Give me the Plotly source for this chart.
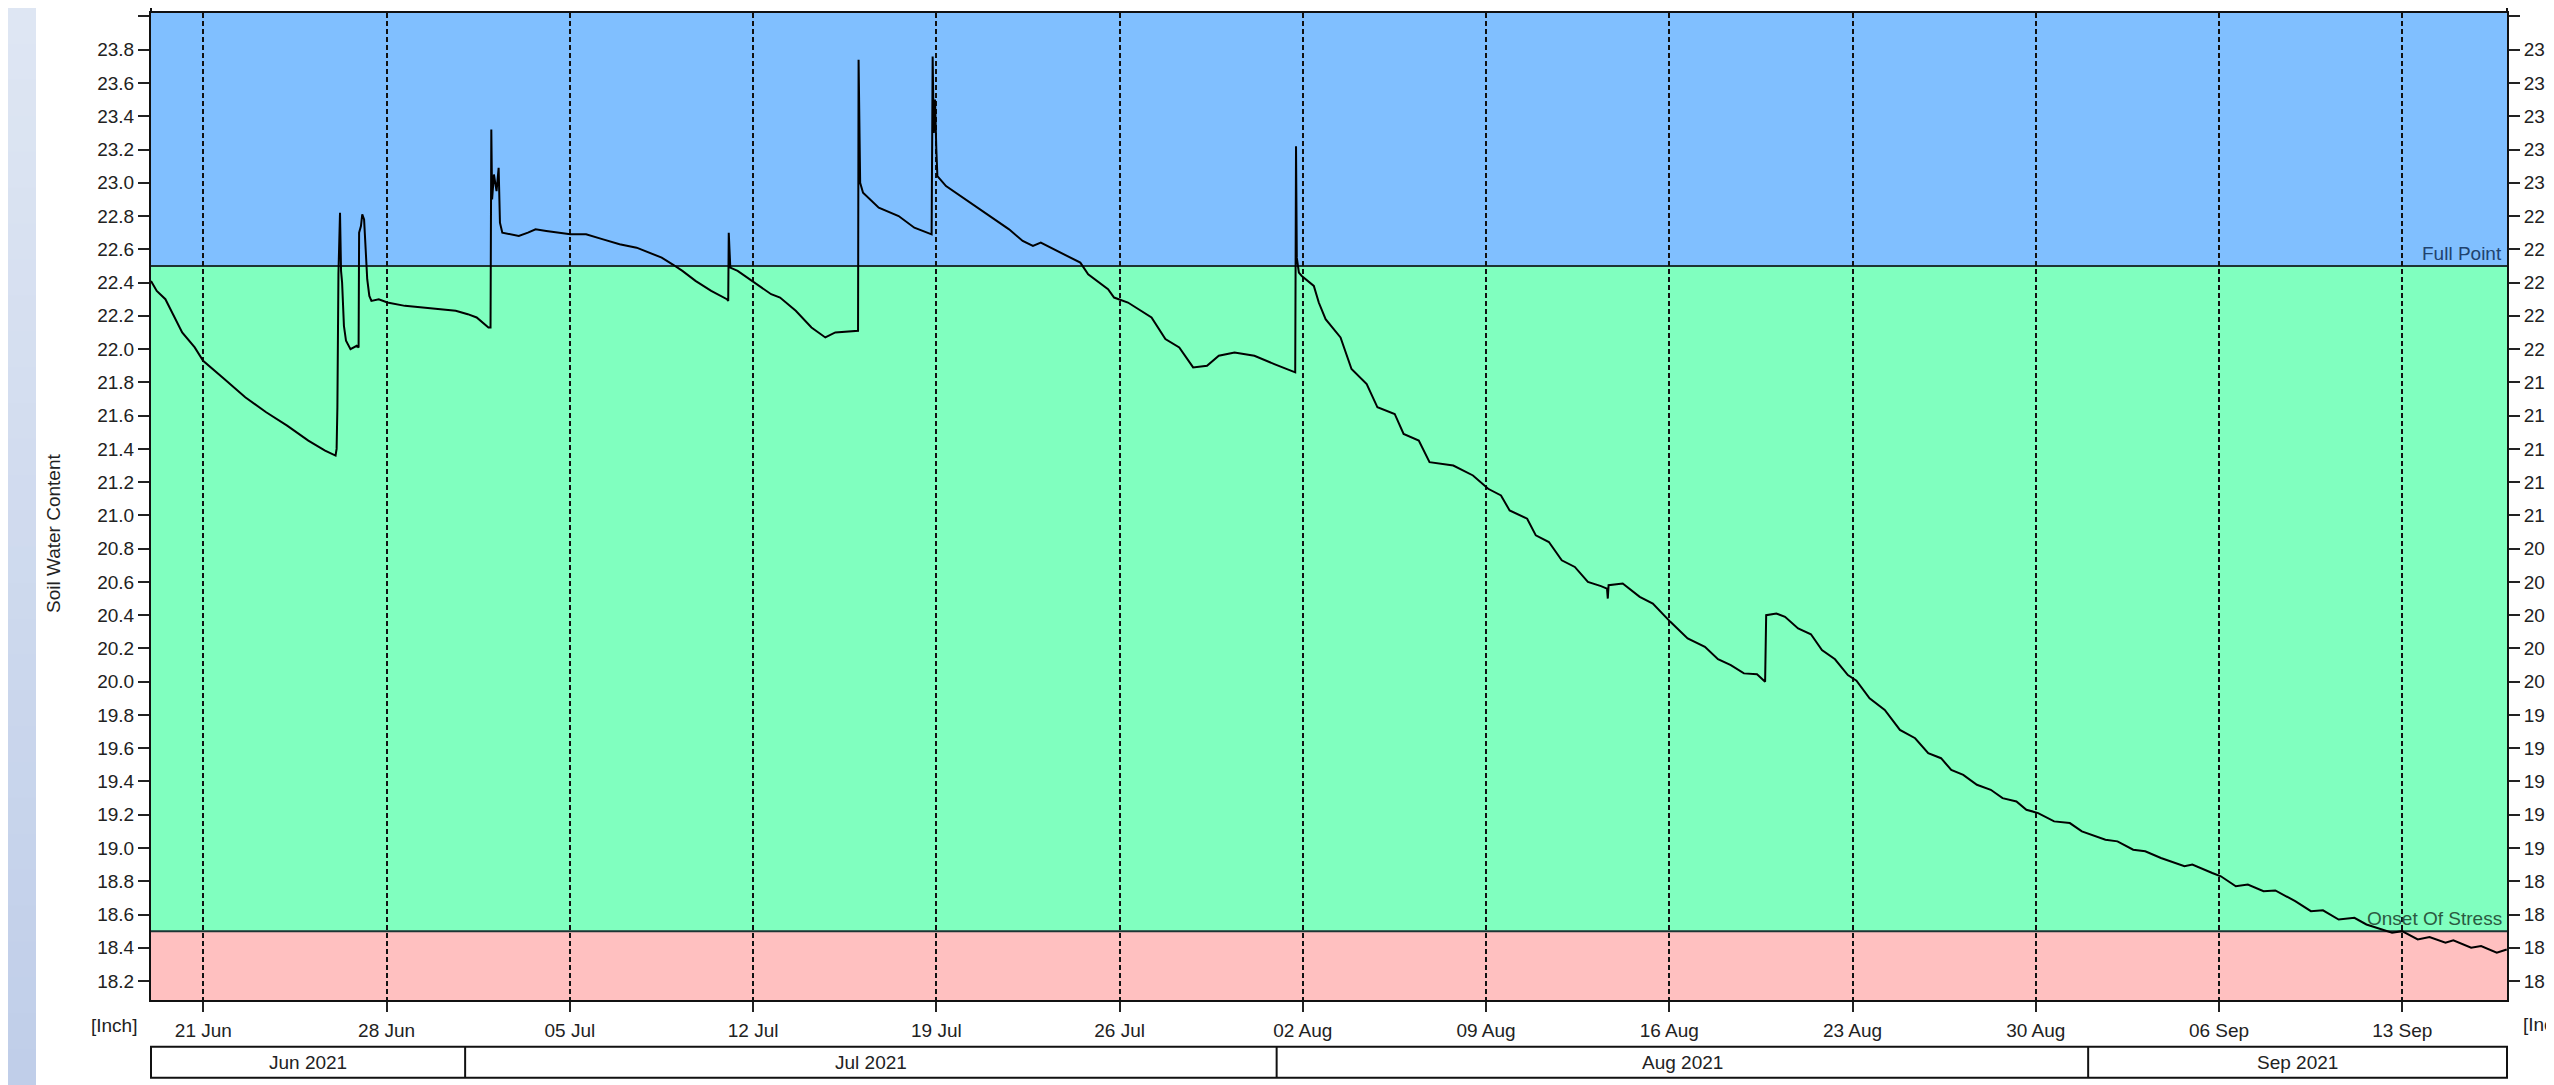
import plotly.graph_objects as go

# ---------------- data ----------------
times = [
    "2021-06-19 00:00", "2021-06-19 05:17", "2021-06-19 13:12", "2021-06-20 04:34", "2021-06-20 16:05",
    "2021-06-20 23:46", "2021-06-21 19:12", "2021-06-22 14:24", "2021-06-23 09:36", "2021-06-24 04:48",
    "2021-06-25 00:14", "2021-06-25 15:36", "2021-06-26 01:12",
    "2021-06-26 02:10", "2021-06-26 02:53", "2021-06-26 03:50", "2021-06-26 05:17", "2021-06-26 06:14",
    "2021-06-26 07:12", "2021-06-26 08:53", "2021-06-26 10:48", "2021-06-26 14:53", "2021-06-26 20:38",
    "2021-06-26 22:19",
    "2021-06-26 22:48", "2021-06-27 00:29", "2021-06-27 01:41", "2021-06-27 03:22", "2021-06-27 04:48",
    "2021-06-27 06:14", "2021-06-27 08:10", "2021-06-27 10:05", "2021-06-27 16:48", "2021-06-28 00:43",
    "2021-06-28 16:48", "2021-06-29 07:12", "2021-06-29 19:55", "2021-06-30 15:22", "2021-07-01 02:24",
    "2021-07-01 10:34", "2021-07-01 21:22", "2021-07-01 23:17",
    "2021-07-02 00:00", "2021-07-02 00:43", "2021-07-02 02:24", "2021-07-02 04:48", "2021-07-02 06:43",
    "2021-07-02 07:55", "2021-07-02 10:05", "2021-07-02 17:31", "2021-07-03 01:12", "2021-07-03 09:36",
    "2021-07-03 16:34", "2021-07-04 02:24", "2021-07-04 15:50", "2021-07-05 00:29", "2021-07-05 09:36",
    "2021-07-05 14:53", "2021-07-06 06:29", "2021-07-06 21:36", "2021-07-07 13:12", "2021-07-08 00:00",
    "2021-07-08 12:14", "2021-07-08 22:05", "2021-07-09 07:12", "2021-07-09 19:12", "2021-07-10 09:36",
    "2021-07-11 00:00",
    "2021-07-11 01:12", "2021-07-11 01:41", "2021-07-11 02:24", "2021-07-11 03:07", "2021-07-11 09:50",
    "2021-07-12 01:12", "2021-07-12 16:34", "2021-07-13 00:43", "2021-07-13 15:07", "2021-07-14 05:31",
    "2021-07-14 18:14", "2021-07-15 03:22", "2021-07-15 23:17",
    "2021-07-16 00:14", "2021-07-16 00:43", "2021-07-16 01:26", "2021-07-16 02:10", "2021-07-16 04:48",
    "2021-07-16 19:12", "2021-07-17 13:26", "2021-07-18 03:50", "2021-07-18 19:41",
    "2021-07-18 20:38", "2021-07-18 21:36", "2021-07-18 22:48", "2021-07-19 00:00", "2021-07-19 00:58",
    "2021-07-19 08:53", "2021-07-20 02:53", "2021-07-20 21:07", "2021-07-21 18:43", "2021-07-22 07:12",
    "2021-07-22 16:34", "2021-07-22 23:46", "2021-07-23 14:24", "2021-07-24 12:00", "2021-07-24 19:12",
    "2021-07-25 13:26", "2021-07-25 18:58", "2021-07-26 07:41", "2021-07-27 05:17", "2021-07-27 18:00",
    "2021-07-28 06:43", "2021-07-28 19:26", "2021-07-29 08:10", "2021-07-29 18:58", "2021-07-30 09:22",
    "2021-07-31 03:36", "2021-07-31 21:50", "2021-08-01 17:02",
    "2021-08-01 17:46", "2021-08-01 18:29", "2021-08-01 20:24", "2021-08-01 23:02", "2021-08-02 10:05",
    "2021-08-02 14:38", "2021-08-02 20:53", "2021-08-03 10:34", "2021-08-03 20:38", "2021-08-04 10:34",
    "2021-08-04 20:24", "2021-08-05 12:14", "2021-08-05 20:24", "2021-08-06 10:19", "2021-08-06 20:10",
    "2021-08-07 18:00", "2021-08-08 12:00", "2021-08-09 01:55", "2021-08-09 13:41", "2021-08-09 21:36",
    "2021-08-10 13:41", "2021-08-10 21:36", "2021-08-11 09:36", "2021-08-11 21:22", "2021-08-12 09:22",
    "2021-08-12 21:22", "2021-08-13 09:22", "2021-08-13 14:53", "2021-08-13 15:36", "2021-08-13 16:19",
    "2021-08-14 05:17", "2021-08-14 20:53", "2021-08-15 08:53", "2021-08-16 00:58", "2021-08-16 16:48",
    "2021-08-17 08:38", "2021-08-17 20:38", "2021-08-18 08:24", "2021-08-18 20:24", "2021-08-19 08:24",
    "2021-08-19 15:50", "2021-08-19 16:48", "2021-08-20 02:10", "2021-08-20 10:05", "2021-08-20 22:05",
    "2021-08-21 09:50", "2021-08-21 19:55", "2021-08-22 07:55", "2021-08-22 19:41", "2021-08-23 03:36",
    "2021-08-23 15:36", "2021-08-24 05:31", "2021-08-24 19:26", "2021-08-25 09:22", "2021-08-25 21:22",
    "2021-08-26 09:07", "2021-08-26 18:29", "2021-08-27 05:31", "2021-08-27 18:00", "2021-08-28 06:43",
    "2021-08-28 17:31", "2021-08-29 06:14", "2021-08-29 15:22", "2021-08-30 02:10", "2021-08-30 16:48",
    "2021-08-31 07:12", "2021-08-31 18:14", "2021-09-01 15:50", "2021-09-02 02:53", "2021-09-02 17:17",
    "2021-09-03 04:19", "2021-09-03 18:43", "2021-09-04 16:19", "2021-09-04 23:31", "2021-09-05 17:46",
    "2021-09-06 01:41", "2021-09-06 15:22", "2021-09-07 02:24", "2021-09-07 16:48", "2021-09-08 03:36",
    "2021-09-08 21:50", "2021-09-09 12:14", "2021-09-09 23:17", "2021-09-10 13:41", "2021-09-11 04:05",
    "2021-09-11 15:07", "2021-09-12 14:38", "2021-09-12 23:46", "2021-09-13 14:10", "2021-09-14 00:58",
    "2021-09-14 15:36", "2021-09-14 22:48", "2021-09-15 15:07", "2021-09-16 00:14", "2021-09-16 14:38",
    "2021-09-16 23:46",
]
swc = [
    22.41, 22.35, 22.30, 22.10, 22.01,
    21.93, 21.82, 21.71, 21.62, 21.54,
    21.45, 21.39, 21.36,
    21.40, 21.65, 22.45, 22.82, 22.47,
    22.40, 22.14, 22.05, 22.00, 22.02,
    22.01,
    22.70, 22.74, 22.81, 22.78, 22.60,
    22.42, 22.32, 22.29, 22.30, 22.28,
    22.26, 22.25, 22.245, 22.23, 22.21,
    22.19, 22.13, 22.13,
    23.32, 22.90, 23.05, 22.95, 23.09,
    22.76, 22.70, 22.69, 22.68, 22.70,
    22.72, 22.71, 22.70, 22.69, 22.69,
    22.69, 22.66, 22.63, 22.61, 22.58,
    22.55, 22.51, 22.47, 22.41, 22.35,
    22.30,
    22.29, 22.70, 22.55, 22.49, 22.47,
    22.40, 22.33, 22.31, 22.23, 22.13,
    22.07, 22.10, 22.11,
    22.11, 23.74, 23.35, 23.00, 22.94,
    22.85, 22.80, 22.73, 22.69,
    23.76, 23.30, 23.50, 23.20, 23.04,
    22.98, 22.90, 22.82, 22.72, 22.65,
    22.62, 22.64, 22.59, 22.52, 22.45,
    22.36, 22.31, 22.28, 22.19, 22.06,
    22.01, 21.89, 21.90, 21.96, 21.98,
    21.96, 21.91, 21.86,
    23.22, 22.55, 22.46, 22.44, 22.38,
    22.28, 22.18, 22.07, 21.88, 21.79,
    21.65, 21.61, 21.49, 21.45, 21.32,
    21.30, 21.24, 21.16, 21.12, 21.03,
    20.98, 20.88, 20.84, 20.73, 20.69,
    20.60, 20.575, 20.56, 20.50, 20.58,
    20.59, 20.51, 20.47, 20.36, 20.26,
    20.21, 20.135, 20.10, 20.05, 20.045,
    20.00, 20.40, 20.41, 20.39, 20.32,
    20.285, 20.19, 20.135, 20.04, 20.006,
    19.90, 19.83, 19.71, 19.66, 19.57,
    19.54, 19.47, 19.44, 19.38, 19.35,
    19.30, 19.28, 19.23, 19.21, 19.16,
    19.15, 19.10, 19.05, 19.04, 18.99,
    18.98, 18.94, 18.89, 18.90, 18.85,
    18.83, 18.77, 18.78, 18.74, 18.745,
    18.68, 18.62, 18.625, 18.57, 18.58,
    18.54, 18.49, 18.50, 18.45, 18.465,
    18.43, 18.445, 18.40, 18.41, 18.37,
    18.39,
]

week_ticks = ["2021-06-21", "2021-06-28", "2021-07-05", "2021-07-12", "2021-07-19", "2021-07-26",
              "2021-08-02", "2021-08-09", "2021-08-16", "2021-08-23", "2021-08-30", "2021-09-06",
              "2021-09-13"]
y_tick_values = [18.2, 18.4, 18.6, 18.8, 19.0, 19.2, 19.4, 19.6, 19.8, 20.0, 20.2, 20.4, 20.6, 20.8,
                 21.0, 21.2, 21.4, 21.6, 21.8, 22.0, 22.2, 22.4, 22.6, 22.8, 23.0, 23.2, 23.4, 23.6,
                 23.8, 24.0]
y_tick_labels = ["18.2", "18.4", "18.6", "18.8", "19.0", "19.2", "19.4", "19.6", "19.8", "20.0",
                 "20.2", "20.4", "20.6", "20.8", "21.0", "21.2", "21.4", "21.6", "21.8", "22.0",
                 "22.2", "22.4", "22.6", "22.8", "23.0", "23.2", "23.4", "23.6", "23.8", ""]
month_starts = ["2021-07-01", "2021-08-01", "2021-09-01"]
month_centers = ["2021-06-25 00:00", "2021-07-16 12:00", "2021-08-16 12:00", "2021-09-09 00:00"]
month_labels = ["Jun 2021", "Jul 2021", "Aug 2021", "Sep 2021"]
FULL_POINT = 22.5
ONSET_OF_STRESS = 18.5
x_range = ["2021-06-19 00:00", "2021-09-17 00:00"]
y_range = [18.086, 24.021]
unit_label = "[Inch]"
y_title = "Soil Water Content"

# ---------------- geometry / style ----------------
# the page body adds an 8 px margin, so the figure is laid out in screen pixels minus 8
OFF = 8
W, H = 2554 - OFF, 1085 - OFF
ML, MR, MT, MB = 151 - OFF, 47, 13 - OFF, 85
PW, PH = W - ML - MR, H - MT - MB


def px_x(sx):
    return (sx - OFF - ML) / PW


def px_y(sy):
    return (H - MB - (sy - OFF)) / PH


FONT = "Liberation Sans, Arial, sans-serif"
FS = 19
TXT = "#222222"
EDGE = "#111111"
BLUE, GREEN, PINK = "#80bfff", "#80ffbf", "#ffc0c0"

fig = go.Figure()
fig.add_trace(go.Scatter(x=times, y=swc, mode="lines", line=dict(color="#000000", width=2),
                         showlegend=False, hoverinfo="x+y"))
fig.add_trace(go.Scatter(x=[None], y=[None], yaxis="y2", showlegend=False, hoverinfo="skip"))

shapes = []
# left background strip (vertical gradient)
strip_top = (222, 230, 243)
strip_bot = (192, 206, 233)
n_slices = 30
y_bottom_paper, y_top_paper = px_y(1085), px_y(OFF)
for i in range(n_slices):
    t = i / (n_slices - 1)
    c = tuple(round(strip_top[k] + (strip_bot[k] - strip_top[k]) * t) for k in range(3))
    ya = y_top_paper - (y_top_paper - y_bottom_paper) * i / n_slices
    yb = y_top_paper - (y_top_paper - y_bottom_paper) * (i + 1) / n_slices
    shapes.append(dict(type="rect", xref="paper", yref="paper", x0=px_x(OFF), x1=px_x(36), y0=yb - 0.001,
                       y1=ya, fillcolor="rgb(%d,%d,%d)" % c, line=dict(width=0), layer="below"))

# soil moisture zones
shapes.append(dict(type="rect", xref="paper", yref="y", x0=0, x1=1, y0=y_range[0], y1=ONSET_OF_STRESS,
                   fillcolor=PINK, line=dict(width=0), layer="below"))
shapes.append(dict(type="rect", xref="paper", yref="y", x0=0, x1=1, y0=ONSET_OF_STRESS, y1=FULL_POINT,
                   fillcolor=GREEN, line=dict(width=0), layer="below"))
shapes.append(dict(type="rect", xref="paper", yref="y", x0=0, x1=1, y0=FULL_POINT, y1=y_range[1],
                   fillcolor=BLUE, line=dict(width=0), layer="below"))
for lvl in (FULL_POINT, ONSET_OF_STRESS):
    shapes.append(dict(type="line", xref="paper", yref="y", x0=0, x1=1, y0=lvl, y1=lvl,
                       line=dict(color="#1d3434", width=2), layer="below"))

# axis line stubs above plot top
for xp in (0, 1):
    shapes.append(dict(type="line", xref="paper", yref="paper", x0=xp, x1=xp, y0=1, y1=px_y(OFF),
                       line=dict(color=EDGE, width=2)))

# month row
row_top, row_bot = px_y(1046.7), px_y(1077.7)
shapes.append(dict(type="rect", xref="paper", yref="paper", x0=0, x1=1, y0=row_bot, y1=row_top,
                   line=dict(color=EDGE, width=2), fillcolor="rgba(0,0,0,0)"))
for m in month_starts:
    shapes.append(dict(type="line", xref="x", yref="paper", x0=m, x1=m, y0=row_bot, y1=row_top,
                       line=dict(color=EDGE, width=2)))

annotations = []
for c, lab in zip(month_centers, month_labels):
    annotations.append(dict(xref="x", yref="paper", x=c, y=(row_top + row_bot) / 2, text=lab,
                            showarrow=False, xanchor="center", yanchor="middle",
                            font=dict(family=FONT, size=FS, color=TXT)))
annotations.append(dict(xref="paper", yref="y", x=1, y=FULL_POINT, text="Full Point", showarrow=False,
                        xanchor="right", yanchor="bottom", xshift=-3, yshift=0,
                        font=dict(family=FONT, size=FS, color="#21426e")))
annotations.append(dict(xref="paper", yref="y", x=1, y=ONSET_OF_STRESS, text="Onset Of Stress",
                        showarrow=False, xanchor="right", yanchor="bottom", xshift=-3, yshift=0,
                        font=dict(family=FONT, size=FS, color="#2b5a41")))
annotations.append(dict(xref="paper", yref="paper", x=px_x(53), y=px_y(534), text=y_title, textangle=-90,
                        showarrow=False, xanchor="center", yanchor="middle",
                        font=dict(family=FONT, size=FS, color=TXT)))
annotations.append(dict(xref="paper", yref="paper", x=px_x(139), y=px_y(1025.5), text=unit_label,
                        showarrow=False, xanchor="right", yanchor="middle",
                        font=dict(family=FONT, size=FS, color=TXT)))
annotations.append(dict(xref="paper", yref="paper", x=px_x(2521), y=px_y(1024), text=unit_label,
                        showarrow=False, xanchor="left", yanchor="middle",
                        font=dict(family=FONT, size=FS, color=TXT)))

axis_common = dict(ticks="outside", tickwidth=2, tickcolor=TXT, zeroline=False, showline=True,
                   linecolor=EDGE, linewidth=2, fixedrange=True,
                   tickfont=dict(family=FONT, size=FS, color=TXT))

fig.update_layout(
    width=W, height=H,
    margin=dict(l=ML, r=MR, t=MT, b=MB, pad=0, autoexpand=False),
    paper_bgcolor="white", plot_bgcolor="white", showlegend=False,
    font=dict(family=FONT, size=FS, color=TXT),
    xaxis=dict(type="date", range=x_range, tickmode="array", tickvals=week_ticks, tickformat="%d %b",
               ticklen=10, ticklabelstandoff=2, showgrid=True, gridcolor="#111111", gridwidth=2,
               griddash="5px,3px", mirror=True, **axis_common),
    yaxis=dict(range=y_range, tickmode="array", tickvals=y_tick_values, ticktext=y_tick_labels,
               ticklen=11, showgrid=False, mirror=True, **axis_common),
    yaxis2=dict(range=y_range, overlaying="y", side="right", tickmode="array", tickvals=y_tick_values,
                ticktext=y_tick_labels, ticklen=11, showgrid=False, **axis_common),
    shapes=shapes,
    annotations=annotations,
)

fig.write_html("out.html")
